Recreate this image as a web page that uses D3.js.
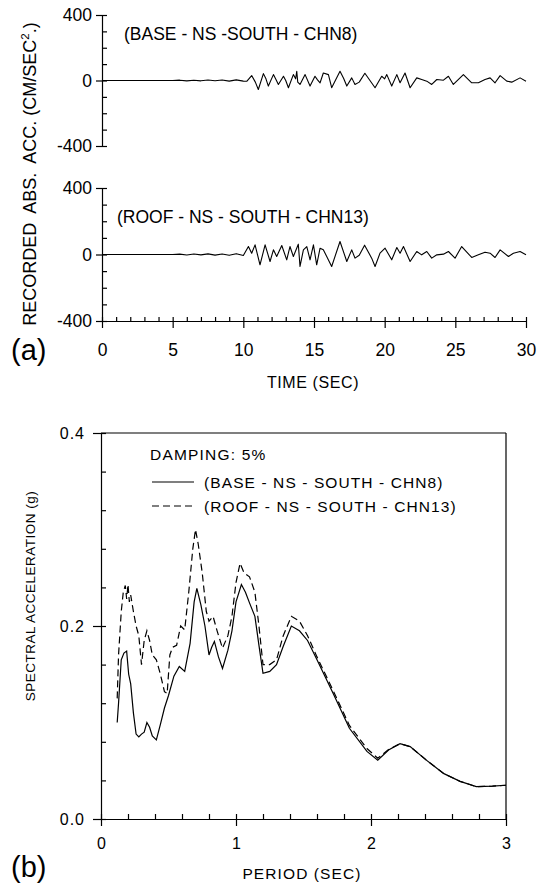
<!DOCTYPE html>
<html>
<head>
<meta charset="utf-8">
<script src="https://cdn.jsdelivr.net/npm/d3@7"></script>
<style>
  body { margin: 0; background: #fff; }
  svg { display: block; font-family: "Liberation Sans", Arial, sans-serif; }
  .trace { fill: none; stroke: #000; stroke-width: 1.1; stroke-linejoin: round; }
  .spec { fill: none; stroke: #000; stroke-width: 1.2; }
  .axis path, .axis line { stroke: #000; stroke-width: 1.2; }
  .axis text { fill: #000; }
</style>
</head>
<body>
<svg id="chart" width="538" height="886"></svg>
<script>
// tick labels
const accTicks = [-400, 0, 400];
const accMinor = [-400, -300, -200, -100, 0, 100, 200, 300, 400];
const timeTicks = [0, 5, 10, 15, 20, 25, 30];
const timeMinor = d3.range(0, 31, 1);
const saTicks = [0.0, 0.2, 0.4];
const saMinor = [0, 0.04, 0.08, 0.12, 0.16, 0.2, 0.24, 0.28, 0.32, 0.36, 0.4];
const periodTicks = [0, 1, 2, 3];
const periodMinor = [0, 0.2, 0.4, 0.6, 0.8, 1, 1.2, 1.4, 1.6, 1.8, 2, 2.2, 2.4, 2.6, 2.8, 3];

// recorded accelerations (sec, cm/sec2)
const baseTime = [0, 5, 5.5, 6, 6.5, 7, 7.5, 8, 8.5, 9, 9.5, 10, 10.24, 10.59, 10.85, 11.06, 11.42, 11.6, 11.77, 12.13, 12.3, 12.48, 12.84, 13.0, 13.19, 13.54, 13.7, 13.78, 13.85, 14.01, 14.37, 14.72, 15.07, 15.25, 15.43, 15.66, 16.02, 16.25, 16.84, 17.1, 17.32, 17.67, 17.9, 18.2, 18.6, 19.32, 19.79, 20.0, 20.15, 20.5, 20.86, 21.09, 21.44, 21.8, 22.27, 22.62, 22.98, 23.33, 23.69, 24.16, 24.51, 24.86, 25.57, 26.16, 26.63, 27.1, 27.46, 27.81, 28.17, 28.64, 28.99, 29.58, 30];
const baseAcc = [0, 0, 2, -2, 2, -2, 3, -2, 3, -4, 4, -4, -5, 30, -10, -55, 42, 10, -34, 36, 8, -24, 26, 0, -44, 36, 10, 56, -10, -24, 36, -34, 26, 4, -14, 46, 36, -44, 56, 12, -34, 16, -24, -10, 44, -44, 26, 10, 36, -34, 36, -14, 46, -44, 16, 6, -4, -24, 6, 2, 26, -24, 36, -14, -14, 6, 16, -14, 30, -4, -10, 16, -4];

const roofTime = [0, 5, 5.5, 6, 6.5, 7, 7.5, 8, 8.5, 9, 9.5, 10, 10.36, 10.59, 10.83, 11.18, 11.54, 11.89, 12.13, 12.36, 12.72, 13.07, 13.3, 13.54, 13.89, 14.01, 14.25, 14.49, 14.72, 14.96, 15.19, 15.43, 15.66, 15.9, 16.25, 16.84, 17.32, 17.67, 17.9, 18.2, 18.58, 19.08, 19.32, 19.67, 20.03, 20.5, 20.86, 21.09, 21.33, 21.8, 22.27, 22.62, 22.98, 23.33, 23.69, 24.16, 24.51, 24.98, 25.45, 26.16, 26.63, 27.1, 27.46, 27.81, 28.17, 28.76, 29.11, 29.58, 30];
const roofAcc = [0, 0, 2, -3, 3, -2, 4, -4, 3, -5, 5, -6, 48, 8, 58, -62, 58, -42, 28, -12, 54, -32, 48, -12, 62, -72, 28, 48, -32, 58, -62, 38, 28, -12, -72, 78, -42, 28, -22, -5, 56, -22, -72, 8, 38, -32, 42, 8, 48, -42, 18, -2, 18, -22, -2, 2, 18, -22, 48, -18, -2, 14, 8, -18, 28, -12, 8, 18, -2];

// 5% damped response spectra (sec, g)
const basePeriod = [0.12, 0.13, 0.15, 0.17, 0.19, 0.205, 0.22, 0.24, 0.26, 0.28, 0.3, 0.32, 0.34, 0.36, 0.38, 0.41, 0.44, 0.47, 0.5, 0.54, 0.58, 0.62, 0.66, 0.69, 0.71, 0.74, 0.77, 0.8, 0.82, 0.84, 0.87, 0.9, 0.94, 0.97, 1.0, 1.04, 1.07, 1.1, 1.14, 1.17, 1.2, 1.25, 1.3, 1.35, 1.41, 1.47, 1.53, 1.6, 1.72, 1.84, 1.97, 2.05, 2.13, 2.215, 2.29, 2.41, 2.54, 2.66, 2.78, 2.9, 3.0];
const baseSa = [0.10, 0.12, 0.165, 0.172, 0.174, 0.15, 0.14, 0.11, 0.088, 0.085, 0.088, 0.09, 0.1, 0.095, 0.086, 0.082, 0.098, 0.115, 0.128, 0.148, 0.158, 0.153, 0.182, 0.225, 0.239, 0.222, 0.2, 0.17, 0.178, 0.184, 0.168, 0.156, 0.175, 0.195, 0.225, 0.243, 0.235, 0.224, 0.21, 0.18, 0.151, 0.153, 0.16, 0.179, 0.2, 0.195, 0.185, 0.165, 0.13, 0.094, 0.07, 0.061, 0.0715, 0.078, 0.075, 0.061, 0.047, 0.039, 0.0335, 0.034, 0.035];

const roofPeriod = [0.12, 0.13, 0.15, 0.165, 0.18, 0.19, 0.2, 0.21, 0.22, 0.24, 0.26, 0.28, 0.3, 0.32, 0.34, 0.36, 0.38, 0.41, 0.44, 0.47, 0.49, 0.51, 0.53, 0.56, 0.59, 0.62, 0.65, 0.68, 0.7, 0.72, 0.75, 0.78, 0.8, 0.83, 0.86, 0.9, 0.94, 0.97, 1.0, 1.03, 1.06, 1.1, 1.14, 1.17, 1.2, 1.25, 1.3, 1.35, 1.41, 1.47, 1.53, 1.6, 1.72, 1.84, 1.97, 2.05, 2.13, 2.215, 2.29, 2.41, 2.54, 2.66, 2.78, 2.9, 3.0];
const roofSa = [0.125, 0.17, 0.215, 0.235, 0.242, 0.228, 0.243, 0.225, 0.232, 0.215, 0.2, 0.19, 0.16, 0.185, 0.195, 0.185, 0.17, 0.165, 0.15, 0.132, 0.13, 0.17, 0.178, 0.18, 0.2, 0.196, 0.235, 0.28, 0.3, 0.285, 0.255, 0.215, 0.205, 0.21, 0.195, 0.177, 0.19, 0.21, 0.245, 0.265, 0.255, 0.251, 0.235, 0.2, 0.16, 0.16, 0.165, 0.19, 0.21, 0.205, 0.19, 0.168, 0.133, 0.097, 0.073, 0.063, 0.072, 0.078, 0.075, 0.061, 0.047, 0.039, 0.0335, 0.034, 0.035];

const chart = function(){
    const svg = d3.select('#chart');

    const pairs = function(xs, ys){
        return xs.map(function(x, i){ return {x: x, y: ys[i]} });
    };
    // plain hyphen for negatives, like the original
    const plain = function(d){ return String(d) };

    const renderTimeHistories = function(){
        let xScale = d3.scaleLinear().domain([0, 30]).range([102, 526]);
        let yTop = d3.scaleLinear().domain([-400, 400]).range([146, 15]);
        let yBot = d3.scaleLinear().domain([-400, 400]).range([321, 188]);

        [yTop, yBot].forEach(function(yScale){
            // major ticks out to the left, minor ones in
            let g = svg.append('g').attr('class', 'axis')
                .attr('transform', 'translate(102,0)')
                .call(d3.axisLeft(yScale).tickValues(accTicks).tickSize(6).tickSizeOuter(0).tickPadding(4).tickFormat(plain));
            g.selectAll('text').attr('font-size', 17.5);
            svg.append('g').attr('class', 'axis')
                .attr('transform', 'translate(102,0)')
                .call(d3.axisRight(yScale).tickValues(accMinor).tickSize(5).tickSizeOuter(0).tickFormat(''))
                .select('.domain').remove();
        });

        let gx = svg.append('g').attr('class', 'axis')
            .attr('transform', 'translate(0,' + yBot(-400) + ')')
            .call(d3.axisBottom(xScale).tickValues(timeTicks).tickSize(7).tickSizeOuter(0).tickPadding(16).tickFormat(plain));
        gx.selectAll('text').attr('font-size', 17.5);
        svg.append('g').attr('class', 'axis')
            .attr('transform', 'translate(0,' + yBot(-400) + ')')
            .call(d3.axisTop(xScale).tickValues(timeMinor).tickSize(4).tickSizeOuter(0).tickFormat(''))
            .select('.domain').remove();

        let lineTop = d3.line().x(function(d){ return xScale(d.x) }).y(function(d){ return yTop(d.y) });
        let lineBot = d3.line().x(function(d){ return xScale(d.x) }).y(function(d){ return yBot(d.y) });
        svg.append('path').datum(pairs(baseTime, baseAcc)).attr('class', 'trace').attr('d', lineTop);
        svg.append('path').datum(pairs(roofTime, roofAcc)).attr('class', 'trace').attr('d', lineBot);

        svg.append('text').attr('x', 124).attr('y', 40).attr('font-size', 17.5)
            .text('(BASE - NS -SOUTH - CHN8)');
        svg.append('text').attr('x', 117).attr('y', 223).attr('font-size', 17.5)
            .text('(ROOF - NS - SOUTH - CHN13)');

        let ylab = svg.append('text').attr('transform', 'translate(36,174) rotate(-90)')
            .attr('text-anchor', 'middle').attr('font-size', 18).style('white-space', 'pre');
        ylab.append('tspan').text('RECORDED  ABS.  ACC. (CM/SEC');
        ylab.append('tspan').attr('font-size', 11.5).attr('dy', -7).text('2');
        ylab.append('tspan').attr('dy', 7).text('.)');

        svg.append('text').attr('x', 313).attr('y', 388).attr('text-anchor', 'middle')
            .attr('font-size', 16).attr('letter-spacing', 0.6).text('TIME (SEC)');
        svg.append('text').attr('x', 11).attr('y', 360).attr('font-size', 29).text('(a)');
    };

    const renderSpectra = function(){
        let xScale = d3.scaleLinear().domain([0, 3]).range([101, 506]);
        let yScale = d3.scaleLinear().domain([0, 0.4]).range([819, 433]);

        // frame top and right
        svg.append('line').attr('x1', xScale(0)).attr('x2', xScale(3)).attr('y1', yScale(0.4)).attr('y2', yScale(0.4))
            .attr('stroke', '#000').attr('stroke-width', 1.2);
        svg.append('line').attr('x1', xScale(3)).attr('x2', xScale(3)).attr('y1', yScale(0.4)).attr('y2', yScale(0))
            .attr('stroke', '#000').attr('stroke-width', 1.2);

        let gy = svg.append('g').attr('class', 'axis')
            .attr('transform', 'translate(' + xScale(0) + ',0)')
            .call(d3.axisLeft(yScale).tickValues(saTicks).tickSize(8).tickSizeOuter(0).tickPadding(8).tickFormat(d3.format('.1f')));
        gy.selectAll('text').attr('font-size', 16).attr('letter-spacing', 1);
        svg.append('g').attr('class', 'axis')
            .attr('transform', 'translate(' + xScale(0) + ',0)')
            .call(d3.axisRight(yScale).tickValues(saMinor).tickSize(5).tickSizeOuter(0).tickFormat(''))
            .select('.domain').remove();

        let gx = svg.append('g').attr('class', 'axis')
            .attr('transform', 'translate(0,' + yScale(0) + ')')
            .call(d3.axisBottom(xScale).tickValues(periodTicks).tickSize(7).tickSizeOuter(0).tickPadding(12).tickFormat(plain));
        gx.selectAll('text').attr('font-size', 16);
        svg.append('g').attr('class', 'axis')
            .attr('transform', 'translate(0,' + yScale(0) + ')')
            .call(d3.axisTop(xScale).tickValues(periodMinor).tickSize(5).tickSizeOuter(0).tickFormat(''))
            .select('.domain').remove();

        let sline = d3.line()
            .x(function(d){ return xScale(d.x) })
            .y(function(d){ return yScale(d.y) });
        svg.append('path').datum(pairs(basePeriod, baseSa)).attr('class', 'spec').attr('d', sline);
        svg.append('path').datum(pairs(roofPeriod, roofSa)).attr('class', 'spec')
            .attr('stroke-dasharray', '7,4').attr('d', sline);

        // legend
        svg.append('text').attr('x', 150).attr('y', 460).attr('font-size', 15.5).attr('letter-spacing', 1.2)
            .text('DAMPING: 5%');
        svg.append('line').attr('x1', 152).attr('x2', 194).attr('y1', 482).attr('y2', 482)
            .attr('stroke', '#000').attr('stroke-width', 1.2);
        svg.append('text').attr('x', 204).attr('y', 488).attr('font-size', 15.5).attr('letter-spacing', 1.1)
            .text('(BASE - NS - SOUTH - CHN8)');
        svg.append('line').attr('x1', 152).attr('x2', 194).attr('y1', 506).attr('y2', 506)
            .attr('stroke', '#000').attr('stroke-width', 1.2).attr('stroke-dasharray', '7,4');
        svg.append('text').attr('x', 204).attr('y', 512).attr('font-size', 15.5).attr('letter-spacing', 1.1)
            .text('(ROOF - NS - SOUTH - CHN13)');

        svg.append('text').attr('transform', 'translate(35,' + 596 + ') rotate(-90)')
            .attr('text-anchor', 'middle').attr('font-size', 13.5).attr('letter-spacing', 0.5)
            .text('SPECTRAL ACCELERATION (g)');
        svg.append('text').attr('x', 302).attr('y', 879).attr('text-anchor', 'middle')
            .attr('font-size', 15.5).attr('letter-spacing', 1.1).text('PERIOD (SEC)');
        svg.append('text').attr('x', 11).attr('y', 877).attr('font-size', 29).text('(b)');
    };

    return {
        renderTimeHistories: renderTimeHistories,
        renderSpectra: renderSpectra
    }
}();

chart.renderTimeHistories();
chart.renderSpectra();
</script>
</body>
</html>
